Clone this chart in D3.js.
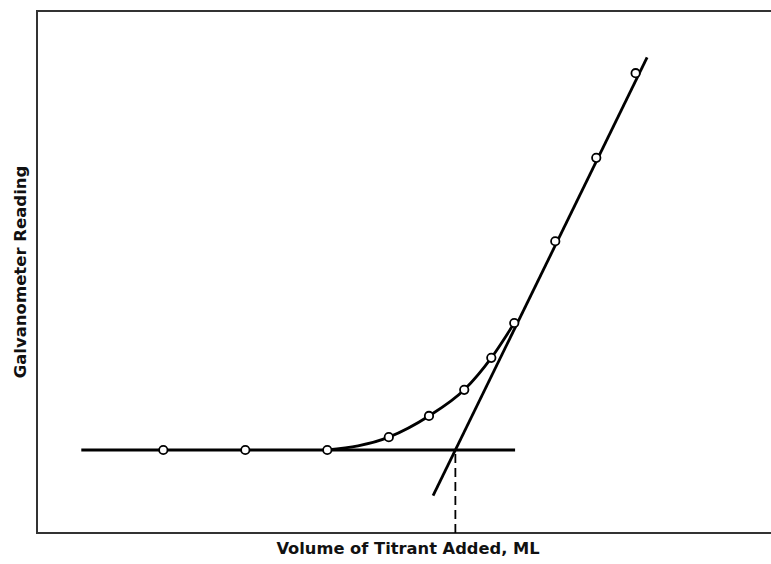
<!DOCTYPE html>
<html>
<head>
<meta charset="utf-8">
<script src="https://cdn.jsdelivr.net/npm/d3@7"></script>
<style>
  body { margin: 0; background: #fff; }
  text { font-family: "DejaVu Sans", Verdana, sans-serif; font-weight: bold; fill: #111; }
</style>
</head>
<body>
<svg id="chart" width="771" height="564"></svg>
<script>
// volume of titrant (mL) and galvanometer reading for each measured point
const volume  = [1, 2, 3, 3.75, 4.24, 4.67, 5.0, 5.28, 5.78, 6.28, 6.76];
const reading = [2, 2, 2, 2.31, 2.82, 3.45, 4.22, 5.06, 7.03, 9.04, 11.08];

// the flat base line drawn through the first points
const baseX = [0, 5.29];
const baseY = [2, 2];

// steep tangent line drawn through the last points
const tanX = [4.29, 6.9];
const tanY = [0.9, 11.46];

const xLabel = "Volume of Titrant Added, ML";
const yLabel = "Galvanometer Reading";

const svg = d3.select("#chart");
const frameL = 37, frameT = 11, frameB = 533, frameR = 776;

const x = d3.scaleLinear().domain([0, 8]).range([81.3, 81.3 + 8 * 82]);
const y = d3.scaleLinear().domain([0, 12]).range([frameB, frameB - 12 * 41.5]);

// frame (right side runs off the picture)
svg.append("rect")
  .attr("x", frameL).attr("y", frameT)
  .attr("width", frameR - frameL).attr("height", frameB - frameT)
  .attr("fill", "none").attr("stroke", "#333").attr("stroke-width", 2);

const line = d3.line().x(d => x(d[0])).y(d => y(d[1]));

// base line
svg.append("path")
  .attr("d", line(d3.zip(baseX, baseY)))
  .attr("fill", "none").attr("stroke", "#000").attr("stroke-width", 2.8);

// tangent line
svg.append("path")
  .attr("d", line(d3.zip(tanX, tanY)))
  .attr("fill", "none").attr("stroke", "#000").attr("stroke-width", 2.8);

// curved part, from where it leaves the base line up to the tangent
const pts = d3.zip(volume, reading);
const curvePts = pts.filter(d => d[0] >= 3 && d[0] <= 5.3);
svg.append("path")
  .attr("d", d3.line().x(d => x(d[0])).y(d => y(d[1])).curve(d3.curveMonotoneX)(curvePts))
  .attr("fill", "none").attr("stroke", "#000").attr("stroke-width", 2.8);

// endpoint: where the tangent meets the base line
const slope = (tanY[1] - tanY[0]) / (tanX[1] - tanX[0]);
const endX = tanX[0] + (baseY[0] - tanY[0]) / slope;
svg.append("line")
  .attr("x1", x(endX)).attr("x2", x(endX))
  .attr("y1", y(baseY[0]) + 4).attr("y2", frameB)
  .attr("stroke", "#000").attr("stroke-width", 1.8)
  .attr("stroke-dasharray", "9,5");

// points
svg.selectAll("circle")
  .data(pts)
  .join("circle")
  .attr("cx", d => x(d[0]))
  .attr("cy", d => y(d[1]))
  .attr("r", 4.2)
  .attr("fill", "#fff").attr("stroke", "#000").attr("stroke-width", 1.8);

// axis labels
svg.append("text")
  .attr("x", 408).attr("y", 554)
  .attr("text-anchor", "middle")
  .attr("font-size", 16.3)
  .text(xLabel);

svg.append("text")
  .attr("transform", "translate(26,272) rotate(-90)")
  .attr("text-anchor", "middle")
  .attr("font-size", 16.5)
  .text(yLabel);
</script>
</body>
</html>
